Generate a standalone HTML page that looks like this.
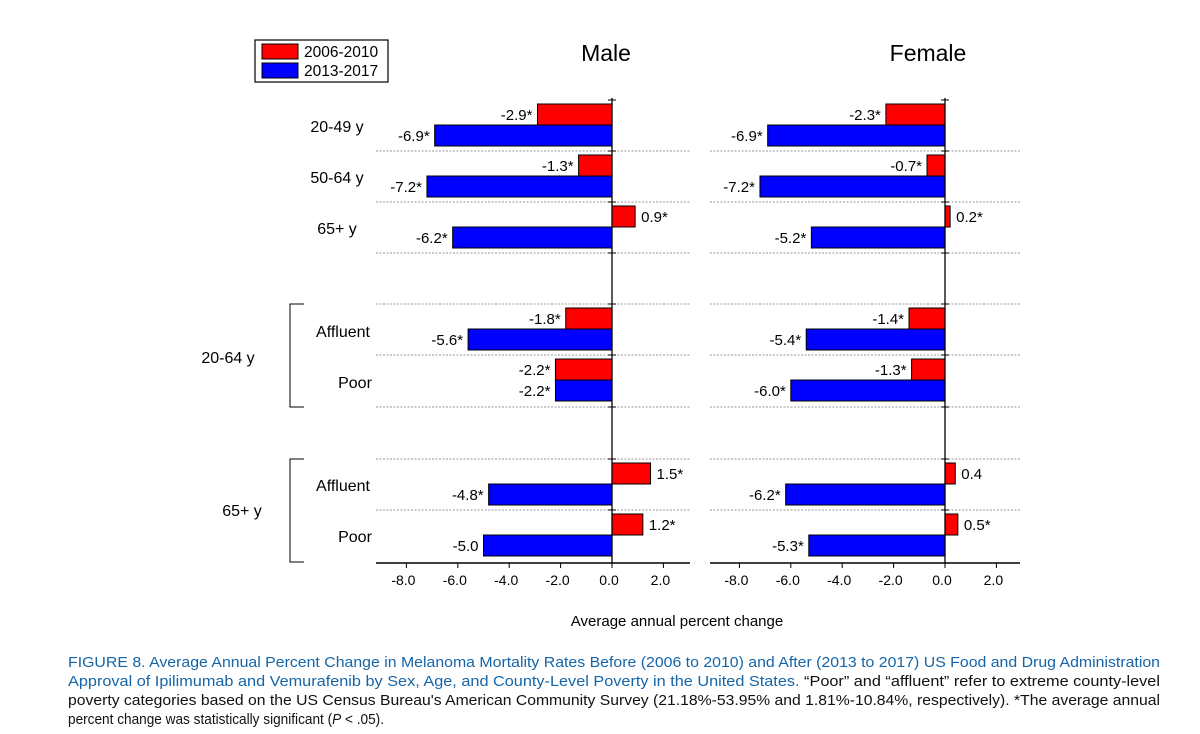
<!DOCTYPE html>
<html><head><meta charset="utf-8"><style>
html,body{margin:0;padding:0;background:#fff}
svg{display:block;font-family:"Liberation Sans",Arial,sans-serif}
</style></head><body>
<svg id="chart" width="1200" height="734" viewBox="0 0 1200 734">
<g>
<rect x="255" y="40" width="133" height="42" fill="#fff" stroke="#000" stroke-width="1.2"/>
<rect x="262" y="44" width="36" height="15" fill="#ff0000" stroke="#000"/>
<text x="304" y="57" font-size="15.5">2006-2010</text>
<rect x="262" y="63" width="36" height="15" fill="#0000ff" stroke="#000"/>
<text x="304" y="76" font-size="15.5">2013-2017</text>
</g>
<text x="606" y="61" font-size="23" text-anchor="middle">Male</text>
<text x="928" y="61" font-size="23" text-anchor="middle">Female</text>
<g id="labels" font-size="16" text-anchor="middle">
<text x="337" y="132">20-49 y</text>
<text x="337" y="183">50-64 y</text>
<text x="337" y="234">65+ y</text>
<text x="343" y="337">Affluent</text>
<text x="355" y="388">Poor</text>
<text x="343" y="491">Affluent</text>
<text x="355" y="542">Poor</text>
<text x="228" y="363">20-64 y</text>
<text x="242" y="516">65+ y</text>
</g>
<path d="M304 304 H290 V407 H304 M304 459 H290 V562 H304" fill="none" stroke="#000" stroke-width="1"/>
<text x="677" y="626" font-size="15" text-anchor="middle">Average annual percent change</text>
<g font-size="15" fill="#1565a8">
<text x="68" y="667" textLength="1092" lengthAdjust="spacingAndGlyphs">FIGURE 8. Average Annual Percent Change in Melanoma Mortality Rates Before (2006 to 2010) and After (2013 to 2017) US Food and Drug Administration</text>
<text x="68" y="686" textLength="1092" lengthAdjust="spacingAndGlyphs">Approval of Ipilimumab and Vemurafenib by Sex, Age, and County-Level Poverty in the United States. <tspan fill="#111">“Poor” and “affluent” refer to extreme county-level</tspan></text>
<text x="68" y="705" textLength="1092" lengthAdjust="spacingAndGlyphs" fill="#111">poverty categories based on the US Census Bureau's American Community Survey (21.18%-53.95% and 1.81%-10.84%, respectively). *The average annual</text>
<text x="68" y="724" textLength="316" lengthAdjust="spacingAndGlyphs" fill="#111">percent change was statistically significant (<tspan font-style="italic">P</tspan> &lt; .05).</text>
</g>
<g id="panels"></g>
</svg>
<script>
const rows = ["20-49 y","50-64 y","65+ y","20-64 Affluent","20-64 Poor","65+ Affluent","65+ Poor"];
const maleEarly = [-2.9,-1.3,0.9,-1.8,-2.2,1.5,1.2];
const maleLate = [-6.9,-7.2,-6.2,-5.6,-2.2,-4.8,-5.0];
const maleEarlyLbl = ["-2.9*","-1.3*","0.9*","-1.8*","-2.2*","1.5*","1.2*"];
const maleLateLbl = ["-6.9*","-7.2*","-6.2*","-5.6*","-2.2*","-4.8*","-5.0"];
const femaleEarly = [-2.3,-0.7,0.2,-1.4,-1.3,0.4,0.5];
const femaleLate = [-6.9,-7.2,-5.2,-5.4,-6.0,-6.2,-5.3];
const femaleEarlyLbl = ["-2.3*","-0.7*","0.2*","-1.4*","-1.3*","0.4","0.5*"];
const femaleLateLbl = ["-6.9*","-7.2*","-5.2*","-5.4*","-6.0*","-6.2*","-5.3*"];
const ticks = [-8,-6,-4,-2,0,2];
const tickLbl = ["-8.0","-6.0","-4.0","-2.0","0.0","2.0"];

const NS="http://www.w3.org/2000/svg";
const root=document.getElementById('panels');
function mk(t,a,p){const e=document.createElementNS(NS,t);for(const k in a)e.setAttribute(k,a[k]);(p||root).appendChild(e);return e;}
const rowTop=[100,151,202,304,355,459,510];
function rowY(i){return rowTop[i];}
function drawPanel(name,zero,left,right,early,late,el,ll){
  const sc=25.7;
  const x=v=>zero+v*sc;
  const g=mk('g',{});
  
  
  const seps=[151,202,253,304,355,407,459,510];
  seps.forEach(y=>{const l=mk('line',{x1:left,x2:right,y1:y,y2:y,stroke:'#999','stroke-dasharray':'2,1.5','stroke-width':1},g);
    });
  rows.forEach((r,i)=>{
    const y=rowY(i);
    const e=early[i], l=late[i];
    const rb=mk('rect',{x:Math.min(x(0),x(e)),y:y+4,width:Math.abs(x(e)-x(0)),height:21,fill:'#ff0000',stroke:'#000','stroke-width':1},g);
    
    
    const bb=mk('rect',{x:Math.min(x(0),x(l)),y:y+25,width:Math.abs(x(l)-x(0)),height:21,fill:'#0000ff',stroke:'#000','stroke-width':1},g);
    
    
    const t1=mk('text',{x:e<0?x(e)-5:x(e)+6,y:y+20,'font-size':15,'text-anchor':e<0?'end':'start'},g);t1.textContent=el[i];
    
    const t2=mk('text',{x:l<0?x(l)-5:x(l)+6,y:y+41,'font-size':15,'text-anchor':l<0?'end':'start'},g);t2.textContent=ll[i];
    
  });
  const zl=mk('line',{x1:zero,x2:zero,y1:98,y2:563,stroke:'#000','stroke-width':1.3},g);
  
  [100,151,202,253,304,355,407,459,510].forEach(y=>mk('line',{x1:zero-4,x2:zero+4,y1:y,y2:y,stroke:'#000'},g));
  const ax=mk('line',{x1:left,x2:right,y1:563,y2:563,stroke:'#000','stroke-width':1.5},g);
  
  ticks.forEach((t,i)=>{
    mk('line',{x1:x(t),x2:x(t),y1:563,y2:568,stroke:'#000'},g);
    const tl=mk('text',{x:x(t)-3,y:585,'font-size':14,'text-anchor':'middle'},g);tl.textContent=tickLbl[i];
    
  });
}
drawPanel('male',612,376,690,maleEarly,maleLate,maleEarlyLbl,maleLateLbl);
drawPanel('female',945,710,1020,femaleEarly,femaleLate,femaleEarlyLbl,femaleLateLbl);
</script>
</body></html>
